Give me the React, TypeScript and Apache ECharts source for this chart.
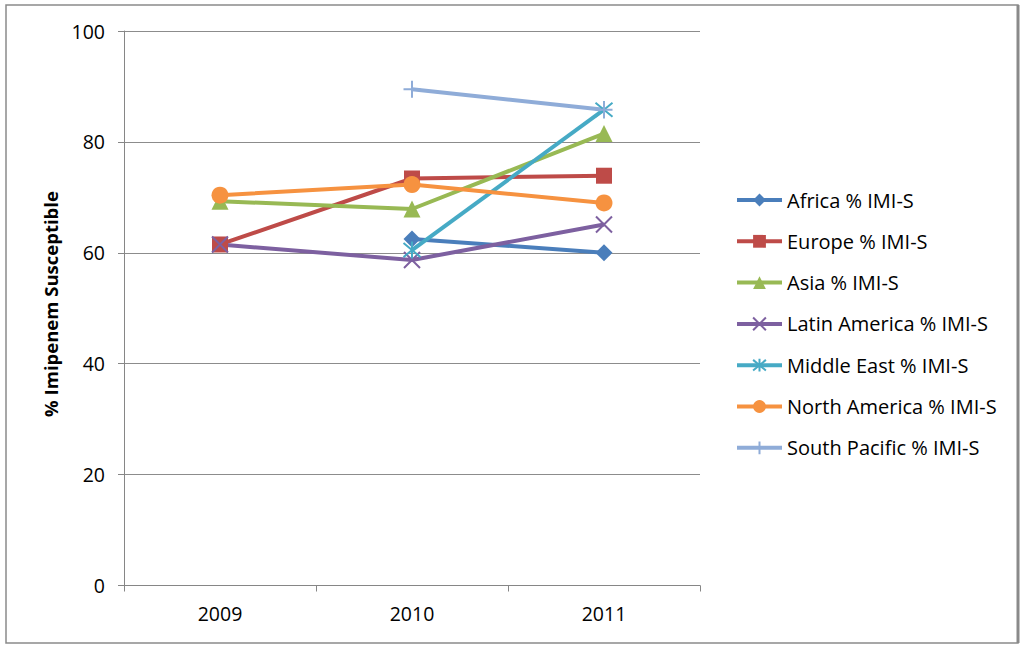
import React, { useEffect, useRef } from "react";
import * as echarts from "echarts";

const years = ["2009", "2010", "2011"];
const africa = [null, 62.5, 60.0];
const europe = [61.5, 73.4, 73.9];
const asia = [69.3, 67.9, 81.5];
const latinAmerica = [61.5, 58.7, 65.1];
const middleEast = [null, 60.5, 85.8];
const northAmerica = [70.4, 72.3, 69.0];
const southPacific = [null, 89.5, 85.8];
const yTicks = [0, 20, 40, 60, 80, 100];

const FONT = "Open Sans";

export default function App() {
  const ref = useRef<HTMLDivElement>(null);
  useEffect(() => {
    document.body.style.margin = "0";
    const chart = echarts.init(ref.current!, null, { renderer: "svg" });
    const mk = (
      name: string,
      data: (number | null)[],
      color: string,
      symbol: string,
      symbolSize: number,
      stroked = false
    ) => ({
      name,
      type: "line",
      data,
      symbol,
      symbolSize,
      showSymbol: true,
      connectNulls: false,
      lineStyle: { color, width: 4 },
      itemStyle: stroked
        ? { color, borderColor: color, borderWidth: 2 }
        : { color, borderWidth: 0 },
      emphasis: { disabled: true },
    });
    chart.setOption({
      animation: false,
      backgroundColor: "#ffffff",
      textStyle: { fontFamily: FONT },
      grid: { left: 124, right: 324, top: 31, bottom: 59.5, containLabel: false },
      xAxis: {
        type: "category",
        data: years,
        boundaryGap: true,
        axisLine: { lineStyle: { color: "#868686", width: 1 } },
        axisTick: { show: true, length: 6, interval: 0, lineStyle: { color: "#868686" } },
        axisLabel: { color: "#000", fontSize: 19.5, fontFamily: FONT, margin: 18 },
      },
      yAxis: {
        type: "value",
        min: yTicks[0],
        max: yTicks[yTicks.length - 1],
        interval: 20,
        axisLine: { show: true, lineStyle: { color: "#868686", width: 1 } },
        axisTick: { show: true, length: 6, lineStyle: { color: "#868686" } },
        splitLine: { show: true, lineStyle: { color: "#8c8c8c", width: 1 } },
        axisLabel: { color: "#000", fontSize: 19.5, fontFamily: FONT, margin: 19 },
      },
      legend: {
        orient: "vertical",
        left: 735,
        top: 190,
        padding: 0,
        itemWidth: 45,
        itemHeight: 16,
        itemGap: 21.3,
        selectedMode: false,
        lineStyle: { width: 4 },
        textStyle: { color: "#000", fontSize: 20, fontFamily: FONT, lineHeight: 20 },
      },
      graphic: [
        {
          type: "rect",
          shape: { x: 6, y: 5, width: 1012, height: 638 },
          style: { fill: "none", stroke: "#8a8a8a", lineWidth: 1.5 },
          silent: true,
        },
        {
          type: "line",
          shape: { x1: 1018, y1: 5, x2: 1018, y2: 643 },
          style: { stroke: "#8a8a8a", lineWidth: 3 },
          silent: true,
        },
        {
          type: "text",
          x: 50,
          y: 304,
          rotation: Math.PI / 2,
          style: {
            text: "% Imipenem Susceptible",
            fontSize: 18.5,
            fontWeight: "bold",
            fontFamily: FONT,
            fill: "#000",
            align: "center",
            verticalAlign: "middle",
          },
          silent: true,
        },
      ],
      series: [
        mk("Africa % IMI-S", africa, "#4A7EBB", "diamond", 17),
        mk("Europe % IMI-S", europe, "#BE4B48", "rect", 16),
        mk("Asia % IMI-S", asia, "#98B954", "triangle", 17),
        mk("Latin America % IMI-S", latinAmerica, "#7D60A0", "path://M0,0L10,10M10,0L0,10", 16, true),
        mk("Middle East % IMI-S", middleEast, "#46AAC5", "path://M0,0L10,10M10,0L0,10M5,-1L5,11", 17, true),
        mk("North America % IMI-S", northAmerica, "#F69240", "circle", 17),
        mk("South Pacific % IMI-S", southPacific, "#8FACD8", "path://M5,0L5,10M0,5L10,5", 17, true),
      ],
    });
    return () => chart.dispose();
  }, []);
  return (
    <div
      ref={ref}
      style={{ position: "fixed", left: 0, top: 0, width: 1024, height: 645 }}
    />
  );
}
